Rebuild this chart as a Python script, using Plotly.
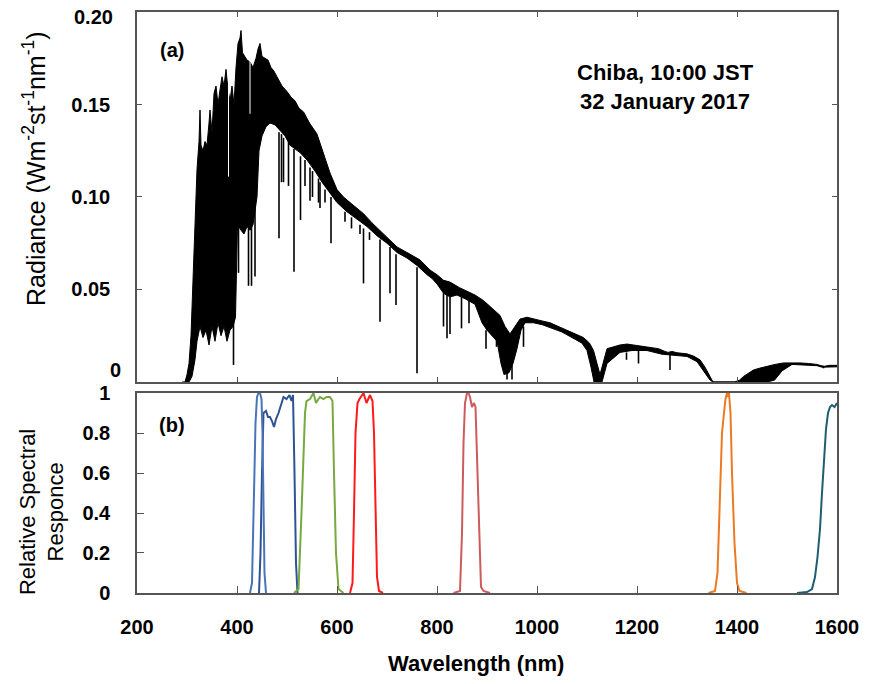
import plotly.graph_objects as go
from plotly.subplots import make_subplots

# ---- panel (a): solar spectrum ----
# upper envelope of the black spectrum
hi_wl = [290, 296, 300, 304, 308, 312, 316, 320, 324, 326, 328, 332, 336, 340, 344, 346, 350, 354,
         358, 362, 366, 370, 374, 378, 382, 386, 390, 394, 398, 402, 406, 408, 411, 416, 420, 426,
         432, 438, 442, 446, 450, 456, 462, 468, 474, 480, 490, 500, 508, 516, 524, 533, 545, 560,
         573, 586, 600, 613, 626, 640, 653, 670, 686, 700, 720, 740, 753, 766, 786, 800, 813, 826,
         845, 860, 876, 893, 910, 926, 936, 946, 956, 966, 980, 993, 1010, 1026, 1043, 1060, 1077,
         1093, 1105, 1113, 1120, 1126, 1132, 1140, 1153, 1166, 1180, 1193, 1210, 1226, 1243, 1256,
         1262, 1270, 1280, 1300, 1313, 1326, 1336, 1346, 1352, 1395, 1405, 1413, 1423, 1433, 1446,
         1460, 1476, 1493, 1510, 1526, 1543, 1560, 1568, 1575, 1585, 1600]
hi_rad = [0.0, 0.0, 0.004, 0.010, 0.025, 0.055, 0.089, 0.115, 0.130, 0.147, 0.128, 0.125, 0.130,
          0.128, 0.140, 0.147, 0.135, 0.156, 0.160, 0.150, 0.158, 0.165, 0.160, 0.169, 0.158, 0.152,
          0.160, 0.150, 0.170, 0.183, 0.186, 0.190, 0.178, 0.176, 0.174, 0.173, 0.170, 0.175, 0.180,
          0.183, 0.176, 0.175, 0.174, 0.170, 0.168, 0.165, 0.160, 0.157, 0.154, 0.152, 0.148, 0.146,
          0.140, 0.134, 0.124, 0.113, 0.104, 0.100, 0.097, 0.094, 0.091, 0.086, 0.082, 0.078, 0.073,
          0.070, 0.068, 0.066, 0.0605, 0.058, 0.055, 0.054, 0.051, 0.049, 0.047, 0.044, 0.040, 0.036,
          0.030, 0.026, 0.030, 0.034, 0.035, 0.034, 0.033, 0.032, 0.030, 0.028, 0.026, 0.024, 0.021,
          0.017, 0.010, 0.004, 0.010, 0.018, 0.019, 0.020, 0.0205, 0.020, 0.0195, 0.019, 0.018,
          0.0165, 0.016, 0.0165, 0.0158, 0.0152, 0.014, 0.012, 0.008, 0.003, 0.0, 0.0, 0.001, 0.003,
          0.005, 0.0065, 0.0075, 0.0085, 0.0095, 0.0103, 0.0105, 0.0103, 0.0100, 0.0095, 0.0088,
          0.0085, 0.0090, 0.0090]

# lower edge of the black band
lo_wl = [296, 304, 310, 316, 320, 326, 332, 338, 344, 350, 356, 362, 368, 374, 380, 386, 392, 397,
         399, 401, 408, 414, 420, 426, 432, 440, 444, 450, 458, 466, 476, 486, 496, 506, 516, 526,
         540, 556, 570, 586, 600, 620, 640, 660, 680, 700, 720, 740, 760, 780, 790, 800, 813, 826,
         840, 856, 876, 890, 900, 910, 920, 928, 934, 944, 952, 960, 968, 976, 993, 1010, 1030,
         1050, 1070, 1090, 1100, 1108, 1114, 1130, 1140, 1150, 1166, 1190, 1220, 1250, 1270, 1300,
         1320, 1336, 1346, 1352, 1395, 1460, 1475, 1490, 1510, 1540, 1560, 1570, 1585, 1600]
lo_rad = [0.0, 0.0, 0.003, 0.012, 0.022, 0.030, 0.024, 0.028, 0.020, 0.030, 0.022, 0.032, 0.025,
          0.030, 0.022, 0.028, 0.030, 0.035, 0.060, 0.085, 0.082, 0.080, 0.084, 0.082, 0.085, 0.100,
          0.125, 0.133, 0.138, 0.140, 0.139, 0.136, 0.133, 0.128, 0.126, 0.124, 0.120, 0.114, 0.108,
          0.102, 0.097, 0.092, 0.088, 0.084, 0.079, 0.075, 0.070, 0.067, 0.063, 0.058, 0.056, 0.053,
          0.048, 0.046, 0.047, 0.045, 0.042, 0.032, 0.028, 0.025, 0.022, 0.010, 0.004, 0.005, 0.010,
          0.018, 0.028, 0.032, 0.032, 0.031, 0.029, 0.027, 0.024, 0.021, 0.017, 0.008, 0.0, 0.0,
          0.010, 0.012, 0.016, 0.017, 0.017, 0.015, 0.0145, 0.0138, 0.011, 0.005, 0.001, 0.0, 0.0,
          0.0, 0.001, 0.006, 0.0095, 0.0092, 0.0088, 0.0080, 0.0082, 0.0082]

# absorption lines: wavelength, top, bottom
line_wl = [393, 403, 423, 429, 436, 484, 489, 493, 503, 514, 527, 536, 546, 551, 563, 566, 576,
           588, 616, 629, 646, 653, 665, 686, 706, 718, 760, 813, 820, 826, 849, 864, 898, 919, 940,
           950, 973, 1179, 1203, 1266, 1573]
line_top = [0.120, 0.090, 0.090, 0.090, 0.100, 0.135, 0.134, 0.132, 0.130, 0.126, 0.122, 0.120,
            0.116, 0.114, 0.110, 0.108, 0.104, 0.100, 0.092, 0.089, 0.085, 0.083, 0.081, 0.077,
            0.073, 0.069, 0.062, 0.048, 0.047, 0.046, 0.046, 0.045, 0.028, 0.023, 0.010, 0.010,
            0.030, 0.016, 0.017, 0.015, 0.0082]
line_bot = [0.0092, 0.059, 0.052, 0.052, 0.057, 0.0777, 0.108, 0.108, 0.106, 0.0596, 0.0876,
            0.106, 0.098, 0.100, 0.097, 0.094, 0.097, 0.075, 0.0866, 0.083, 0.080, 0.0533, 0.0768,
            0.0326, 0.048, 0.0416, 0.0047, 0.030, 0.0236, 0.026, 0.029, 0.0317, 0.018, 0.019,
            0.0013, 0.0013, 0.019, 0.012, 0.010, 0.0065, 0.0074]

# white gaps inside the dense UV/blue part
gap_wl = [383, 426]
gap_top = [0.165, 0.176]
gap_bot = [0.111, 0.145]

# ---- panel (b): relative spectral responses ----
bands = [
    ([444, 447, 450, 453, 458, 462, 466, 470, 474, 478, 483, 489, 493, 499, 505, 509, 512, 515,
      518, 521],
     [0, 0.2, 0.6, 0.9, 0.91, 0.88, 0.88, 0.86, 0.83, 0.87, 0.9, 0.95, 0.98, 0.97, 0.99, 0.96,
      0.99, 0.6, 0.15, 0], "#2E5394"),
    ([426, 430, 434, 437, 440, 443, 446, 449, 451, 453, 455, 458],
     [0, 0.05, 0.5, 0.85, 0.98, 1.0, 1.0, 0.97, 0.8, 0.45, 0.1, 0], "#4A74B8"),
    ([514, 523, 529, 533, 536, 539, 546, 553, 558, 563, 566, 573, 579, 586, 591, 594, 598, 603,
      613],
     [0, 0.02, 0.4, 0.75, 0.9, 0.96, 0.97, 1.0, 0.95, 0.97, 0.98, 0.97, 0.98, 0.98, 0.96, 0.6,
      0.2, 0.02, 0], "#78A840"),
    ([626, 631, 634, 637, 641, 645, 653, 659, 666, 671, 674, 677, 680, 684, 692],
     [0, 0.05, 0.4, 0.8, 0.95, 0.97, 1.0, 0.95, 0.99, 0.96, 0.8, 0.4, 0.08, 0.01, 0], "#FF1A1A"),
    ([833, 846, 850, 853, 856, 860, 863, 866, 870, 874, 877, 880, 884, 888, 893, 906],
     [0, 0.01, 0.3, 0.75, 0.95, 1.0, 1.0, 0.98, 0.93, 0.95, 0.93, 0.7, 0.3, 0.03, 0.01, 0],
     "#CD5B5B"),
    ([1343, 1356, 1361, 1365, 1370, 1374, 1377, 1380, 1382, 1384, 1387, 1390, 1395, 1400, 1405,
      1419],
     [0, 0.01, 0.1, 0.45, 0.8, 0.9, 0.97, 1.0, 0.98, 1.0, 0.9, 0.6, 0.25, 0.05, 0.01, 0],
     "#EC7A22"),
    ([1520, 1540, 1550, 1556, 1561, 1566, 1570, 1574, 1578, 1582, 1586, 1590, 1595, 1600],
     [0, 0.005, 0.02, 0.08, 0.18, 0.32, 0.5, 0.68, 0.82, 0.9, 0.93, 0.94, 0.93, 0.95],
     "#1E5E70"),
]

FONT = "Liberation Sans, Arial, sans-serif"

fig = make_subplots(rows=2, cols=1, shared_xaxes=False, vertical_spacing=0.0)

# spectrum as filled band between the envelopes
fig.add_trace(go.Scatter(x=hi_wl + lo_wl[::-1], y=hi_rad + lo_rad[::-1], fill="toself",
                         fillcolor="black", mode="lines", line=dict(color="black", width=1),
                         hoverinfo="skip"), row=1, col=1)

sx, sy = [], []
for w, t, b in zip(line_wl, line_top, line_bot):
    sx += [w, w, None]
    sy += [t, b, None]
fig.add_trace(go.Scatter(x=sx, y=sy, mode="lines", line=dict(color="black", width=1.6)),
              row=1, col=1)

gx, gy = [], []
for w, t, b in zip(gap_wl, gap_top, gap_bot):
    gx += [w, w, None]
    gy += [t, b, None]
fig.add_trace(go.Scatter(x=gx, y=gy, mode="lines", line=dict(color="white", width=1)),
              row=1, col=1)

for wl, r, c in bands:
    fig.add_trace(go.Scatter(x=wl, y=r, mode="lines", line=dict(color=c, width=2)),
                  row=2, col=1)

axis_common = dict(showline=True, linecolor="#555", linewidth=1.5, showgrid=False,
                   zeroline=False, ticks="inside", tickcolor="#555", automargin=False,
                   ticklabeloverflow="allow",
                   tickfont=dict(family=FONT, size=20, color="black", weight="bold"))

fig.update_xaxes(range=[200, 1600], tickvals=[200, 400, 600, 800, 1000, 1200, 1400, 1600],
                 **axis_common)
fig.update_xaxes(showticklabels=False, mirror="ticks", ticklen=5, row=1, col=1)
fig.update_xaxes(mirror=True, ticklen=7, ticklabelstandoff=15, row=2, col=1)

fig.update_yaxes(**axis_common)
# top label and the zero label of panel (a) sit slightly off their ticks; drawn as notes
fig.update_yaxes(range=[0, 0.2], tickvals=[0.05, 0.10, 0.15, 0.20],
                 ticktext=["0.05", "0.10", "0.15", ""], mirror="ticks", ticklen=5,
                 ticklabelstandoff=21, domain=[0.3632, 1.0], row=1, col=1)
fig.update_yaxes(range=[0, 1], tickvals=[0, 0.2, 0.4, 0.6, 0.8, 1.0],
                 ticktext=["0", "0.2", "0.4", "0.6", "0.8", "1"], mirror=True, ticklen=7,
                 ticklabelstandoff=21, domain=[0.0, 0.3442], row=2, col=1)

ann = [
    dict(text="0.20", x=-0.0314, y=0.2, xref="paper", yref="y", xanchor="right",
         yanchor="middle", yshift=-5, font=dict(size=20, weight="bold")),
    dict(text="0", x=-0.02, y=0, xref="paper", yref="y", xanchor="right", yanchor="middle",
         yshift=12, font=dict(size=20, weight="bold")),
    dict(text="(a)", x=0.05, y=0.9346, font=dict(size=20, weight="bold")),
    dict(text="(b)", x=0.05, y=0.289, font=dict(size=20, weight="bold")),
    dict(text="Chiba, 10:00 JST<br>32 January 2017", x=0.755, y=0.871,
         font=dict(size=22, weight="bold")),
    dict(text="Radiance (Wm<sup>-2</sup>st<sup>-1</sup>nm<sup>-1</sup>)", x=-0.147, y=0.73,
         textangle=-90, font=dict(size=25)),
    dict(text="Relative Spectral<br>Responce", x=-0.136, y=0.139, textangle=-90,
         font=dict(size=22)),
    dict(text="Wavelength (nm)", x=0.484, y=-0.1205, font=dict(size=22, weight="bold")),
]
for a in ann:
    a.setdefault("xref", "paper")
    a.setdefault("yref", "paper")
    a.setdefault("xanchor", "center")
    a.setdefault("yanchor", "middle")
    a["showarrow"] = False
    a["font"]["family"] = FONT
    a["font"]["color"] = "black"
fig.update_layout(annotations=ann)

# page body adds an 8px offset, margins account for it
fig.update_layout(width=875, height=684, showlegend=False, plot_bgcolor="white",
                  paper_bgcolor="white", font=dict(family=FONT, color="black"),
                  margin=dict(l=129, r=46, t=4, b=99))

fig.write_html("out.html")
